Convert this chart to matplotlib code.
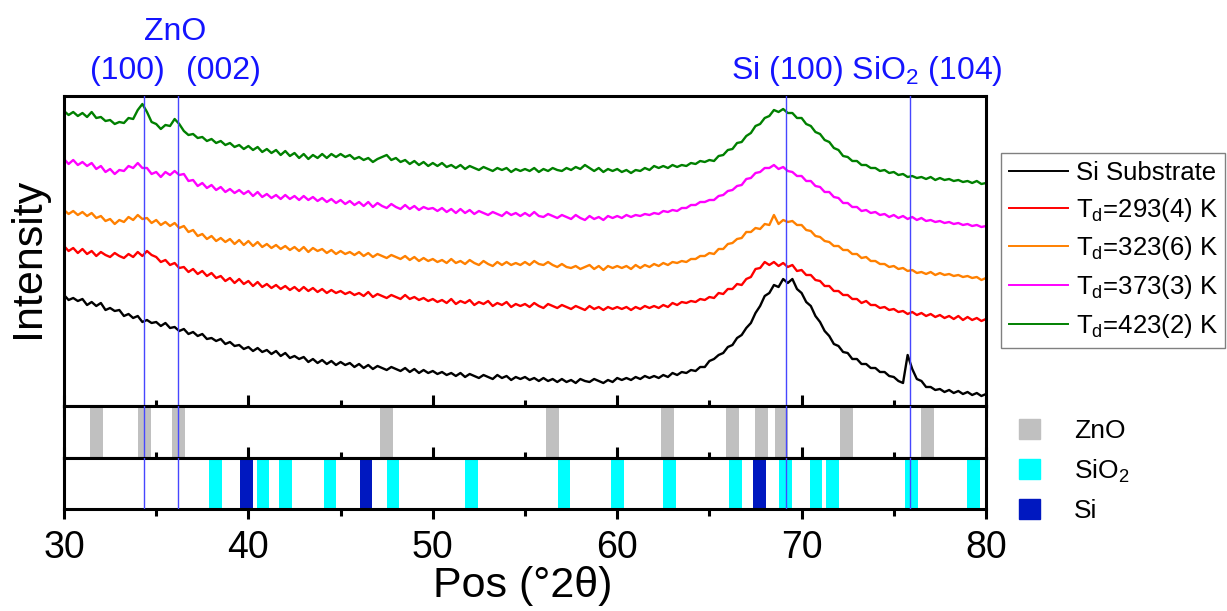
"""
XRD patterns of ZnO films deposited at different substrate temperatures,
stacked above reference peak positions for ZnO, SiO2 and Si.
"""

import numpy as np
import matplotlib
matplotlib.use('Agg')
import matplotlib.pyplot as plt
from matplotlib.patches import Patch
from matplotlib.lines import Line2D
from matplotlib.ticker import MultipleLocator

plt.rcParams['font.family'] = ['Liberation Sans', 'DejaVu Sans']
plt.rcParams['mathtext.fontset'] = 'custom'
plt.rcParams['mathtext.rm'] = 'Liberation Sans'
plt.rcParams['mathtext.it'] = 'Liberation Sans:italic'

# 2theta grid of the scans (0.25 deg)
two_theta = np.arange(30.0, 80.001, 0.25)

# intensities (arbitrary units, offset curves)
si_substrate = [
    111, 106, 108, 105, 107, 101, 104, 100, 103, 96, 98, 95, 96, 90, 92, 88, 90, 84, 86, 83,
    84, 80, 83, 78, 79, 75, 77, 72, 74, 70, 72, 67, 68, 65, 67, 62, 64, 60, 61, 57,
    59, 55, 58, 54, 56, 52, 55, 50, 53, 48, 50, 47, 49, 44, 47, 43, 46, 42, 45, 41,
    44, 41, 43, 39, 42, 38, 41, 37, 40, 38, 36, 39, 37, 35, 38, 34, 37, 33, 36, 33,
    35, 32, 34, 31, 33, 30, 33, 29, 32, 30, 28, 31, 29, 27, 31, 28, 30, 26, 29, 27,
    29, 26, 28, 25, 28, 25, 27, 24, 27, 24, 26, 23, 27, 25, 24, 27, 25, 23, 26, 24,
    28, 26, 28, 26, 29, 27, 30, 28, 30, 28, 31, 29, 33, 31, 34, 33, 36, 35, 39, 39,
    45, 47, 51, 53, 59, 61, 68, 71, 78, 83, 93, 100, 110, 113, 121, 119, 127, 123, 127, 117,
    113, 104, 100, 90, 84, 75, 70, 62, 60, 54, 53, 47, 47, 42, 42, 38, 38, 34, 34, 30,
    29, 25, 23, 51, 37, 27, 25, 19, 19, 16, 17, 14, 16, 13, 15, 12, 14, 11, 13, 10,
    12]
td_293 = [
    160, 155, 158, 153, 157, 152, 155, 150, 154, 151, 149, 153, 150, 148, 152, 149, 154, 150, 155, 151,
    149, 144, 146, 141, 143, 138, 139, 134, 137, 132, 135, 130, 133, 128, 130, 125, 128, 123, 127, 122,
    125, 120, 124, 119, 122, 118, 121, 117, 120, 116, 119, 115, 119, 115, 118, 114, 117, 113, 116, 113,
    115, 112, 114, 111, 113, 110, 114, 109, 112, 110, 108, 111, 109, 107, 111, 107, 109, 106, 108, 105,
    107, 104, 106, 103, 107, 102, 105, 103, 106, 101, 104, 102, 105, 100, 103, 101, 104, 99, 102, 100,
    102, 99, 103, 100, 98, 102, 100, 98, 101, 99, 97, 100, 98, 96, 100, 97, 99, 96, 99, 97,
    99, 97, 99, 96, 99, 97, 100, 98, 100, 98, 101, 99, 103, 101, 104, 103, 105, 104, 107, 106,
    109, 108, 113, 112, 117, 117, 122, 121, 127, 129, 137, 138, 144, 141, 144, 140, 143, 139, 141, 135,
    136, 131, 131, 126, 125, 120, 120, 115, 115, 111, 111, 107, 107, 103, 105, 101, 101, 98, 99, 96,
    97, 94, 95, 92, 94, 91, 93, 90, 92, 89, 91, 88, 90, 87, 90, 86, 89, 86, 88, 85,
    87]
td_323 = [
    196, 192, 195, 191, 194, 190, 193, 188, 190, 185, 187, 182, 186, 184, 189, 186, 191, 187, 188, 183,
    186, 181, 184, 180, 183, 178, 180, 174, 176, 170, 172, 167, 170, 165, 168, 164, 167, 162, 166, 161,
    165, 160, 164, 159, 162, 158, 161, 157, 160, 156, 159, 155, 159, 154, 158, 155, 157, 153, 156, 152,
    155, 152, 154, 151, 154, 150, 153, 149, 152, 150, 148, 151, 149, 147, 150, 146, 149, 145, 148, 145,
    147, 144, 146, 143, 147, 143, 145, 142, 146, 143, 141, 145, 142, 140, 144, 141, 144, 141, 143, 141,
    144, 141, 145, 142, 141, 144, 141, 139, 142, 139, 138, 140, 137, 139, 141, 137, 140, 136, 140, 138,
    140, 138, 140, 137, 141, 138, 141, 139, 142, 140, 143, 141, 144, 143, 145, 144, 147, 147, 150, 150,
    153, 152, 157, 157, 162, 163, 167, 168, 174, 174, 178, 177, 182, 181, 191, 182, 186, 184, 185, 181,
    181, 176, 175, 170, 169, 165, 164, 160, 160, 156, 156, 152, 152, 148, 149, 145, 145, 142, 142, 139,
    140, 137, 138, 135, 136, 133, 134, 132, 134, 131, 133, 131, 132, 130, 131, 129, 130, 128, 129, 126,
    128]
td_373 = [
    247, 242, 246, 241, 244, 240, 243, 237, 240, 234, 237, 232, 236, 235, 240, 238, 243, 238, 238, 232,
    234, 229, 234, 231, 235, 231, 232, 225, 226, 220, 223, 218, 221, 216, 219, 214, 217, 213, 216, 212,
    215, 210, 214, 209, 212, 208, 211, 207, 211, 207, 210, 206, 210, 206, 209, 205, 208, 204, 207, 203,
    206, 202, 205, 201, 204, 200, 204, 199, 203, 200, 198, 202, 199, 197, 201, 197, 200, 196, 199, 197,
    198, 195, 198, 194, 197, 193, 197, 193, 196, 192, 195, 193, 191, 194, 192, 190, 194, 191, 193, 190,
    193, 190, 194, 190, 189, 192, 190, 188, 191, 189, 187, 191, 188, 186, 190, 187, 189, 186, 190, 188,
    190, 188, 191, 189, 191, 190, 192, 191, 193, 192, 195, 194, 196, 195, 198, 198, 201, 201, 204, 204,
    206, 206, 210, 211, 215, 216, 220, 221, 227, 228, 233, 234, 238, 238, 241, 237, 239, 235, 234, 230,
    230, 225, 225, 220, 219, 214, 214, 209, 208, 203, 203, 199, 199, 195, 196, 193, 194, 191, 192, 189,
    191, 188, 190, 187, 189, 186, 188, 185, 186, 184, 185, 183, 184, 182, 183, 181, 182, 180, 181, 179,
    180]
td_423 = [
    295, 291, 294, 290, 293, 289, 294, 288, 289, 285, 286, 282, 284, 283, 288, 287, 296, 302, 294, 284,
    282, 277, 281, 280, 287, 282, 275, 271, 272, 268, 269, 265, 267, 263, 265, 261, 263, 259, 261, 257,
    260, 256, 259, 254, 257, 253, 256, 251, 255, 250, 253, 248, 252, 247, 251, 248, 252, 248, 252, 249,
    252, 249, 251, 247, 249, 246, 248, 244, 247, 249, 251, 246, 248, 244, 246, 242, 245, 241, 244, 240,
    243, 240, 243, 239, 241, 238, 241, 237, 240, 238, 236, 239, 237, 235, 238, 236, 238, 234, 237, 235,
    237, 235, 238, 234, 237, 235, 238, 236, 235, 238, 236, 239, 237, 241, 238, 235, 238, 234, 237, 235,
    237, 234, 236, 233, 236, 235, 238, 236, 240, 238, 240, 238, 241, 239, 241, 240, 243, 242, 245, 244,
    246, 245, 250, 251, 256, 257, 263, 264, 270, 273, 280, 282, 288, 290, 296, 294, 297, 293, 293, 288,
    288, 282, 280, 274, 272, 266, 264, 258, 256, 250, 249, 245, 245, 241, 241, 238, 238, 235, 236, 233,
    234, 231, 232, 229, 230, 228, 229, 227, 229, 226, 228, 226, 227, 225, 226, 224, 225, 223, 225, 222,
    223]

series_labels = ['Si Substrate', r'T$_{\rm d}$=293(4) K', r'T$_{\rm d}$=323(6) K',
                 r'T$_{\rm d}$=373(3) K', r'T$_{\rm d}$=423(2) K']
series_colors = ['black', '#ff0000', '#ff8000', '#ff00ff', '#008000']

# reference peak positions (deg 2theta)
zno_peaks = [31.75, 34.37, 36.21, 47.47, 56.51, 62.74, 66.26, 67.81, 68.9, 72.42, 76.81]
sio2_peaks = [38.23, 40.79, 42.03, 44.43, 47.84, 52.08, 57.12, 60.0, 62.82, 66.41,
              69.12, 70.78, 71.68, 75.95, 79.31]
si_peaks = [39.89, 46.37, 67.73]

# marker lines and their labels
marker_pos = [34.35, 36.2, 69.15, 75.88]

W, H = 1227, 611
fig = plt.figure(figsize=(W / 100, H / 100), dpi=100)

left, right = 64 / W, 986 / W
ax = fig.add_axes([left, 1 - 406 / H, right - left, 310 / H])
ax_zno = fig.add_axes([left, 1 - 457.5 / H, right - left, 51.5 / H])
ax_ref = fig.add_axes([left, 1 - 509 / H, right - left, 51.5 / H])

for y, c, lab in zip([si_substrate, td_293, td_323, td_373, td_423], series_colors, series_labels):
    ax.plot(two_theta, y, color=c, lw=1.7, label=lab)
ax.set_ylim(0, 310)
ax.set_yticks([])

bar_w = 0.69
ax_zno.bar(zno_peaks, 1, width=bar_w, bottom=0, color='#c0c0c0')
ax_ref.bar(sio2_peaks, 1, width=bar_w, bottom=0, color='#00ffff')
ax_ref.bar(si_peaks, 1, width=bar_w, bottom=0, color='#0018c0')

for a in (ax, ax_zno, ax_ref):
    a.set_xlim(30, 80)
    a.xaxis.set_major_locator(MultipleLocator(10))
    a.xaxis.set_minor_locator(MultipleLocator(5))
    for s in a.spines.values():
        s.set_linewidth(2.2)
    for xp in marker_pos:
        a.axvline(xp, color='#4646ff', lw=1.0, zorder=5)

for a in (ax_zno, ax_ref):
    a.set_ylim(0, 1)
    a.set_yticks([])

for a in (ax, ax_zno):
    a.tick_params(axis='x', which='major', direction='inout', length=16, width=2.2,
                  labelbottom=False)
    a.tick_params(axis='x', which='minor', direction='inout', length=9, width=2.2)
ax_ref.tick_params(axis='x', which='major', direction='out', length=7, width=2.2,
                   labelsize=27, pad=8)
ax_ref.tick_params(axis='x', which='minor', direction='out', length=5, width=2.2)

fig.text(28 / W, 1 - 258 / H, 'Intensity', rotation=90, ha='center', va='center',
         fontsize=31)
fig.text(523 / W, 1 - 586 / H, 'Pos (°2θ)', ha='center', va='center', fontsize=31)

blue = '#1414ff'
fig.text(175 / W, 1 - 40 / H, 'ZnO', ha='center', va='baseline', fontsize=23, color=blue)
fig.text(127 / W, 1 - 79 / H, '(100)', ha='center', va='baseline', fontsize=23, color=blue)
fig.text(223 / W, 1 - 79 / H, '(002)', ha='center', va='baseline', fontsize=23, color=blue)
fig.text(867 / W, 1 - 79 / H, r'Si (100) SiO$_2$ (104)', ha='center', va='baseline',
         fontsize=23, color=blue)

handles = [Line2D([], [], color=c, lw=1.4) for c in series_colors]
leg = fig.legend(handles, series_labels, loc='upper left',
                 bbox_to_anchor=(1001 / W, 1 - 153 / H), fontsize=18.5,
                 frameon=True, fancybox=False, edgecolor='#808080', framealpha=1,
                 borderaxespad=0, borderpad=0.3, handlelength=2.3, handletextpad=0.3,
                 labelspacing=0.42)
leg.get_frame().set_linewidth(1.0)

ref_handles = [Patch(color='#c0c0c0'), Patch(color='#00ffff'), Patch(color='#0018c0')]
fig.legend(ref_handles, ['ZnO', r'SiO$_2$', 'Si'], loc='upper left',
           bbox_to_anchor=(1008 / W, 1 - 408 / H), fontsize=19, frameon=False,
           borderaxespad=0, handlelength=0.8, handleheight=0.8, handletextpad=1.3,
           labelspacing=0.55)

fig.savefig('out.png', dpi=100)
